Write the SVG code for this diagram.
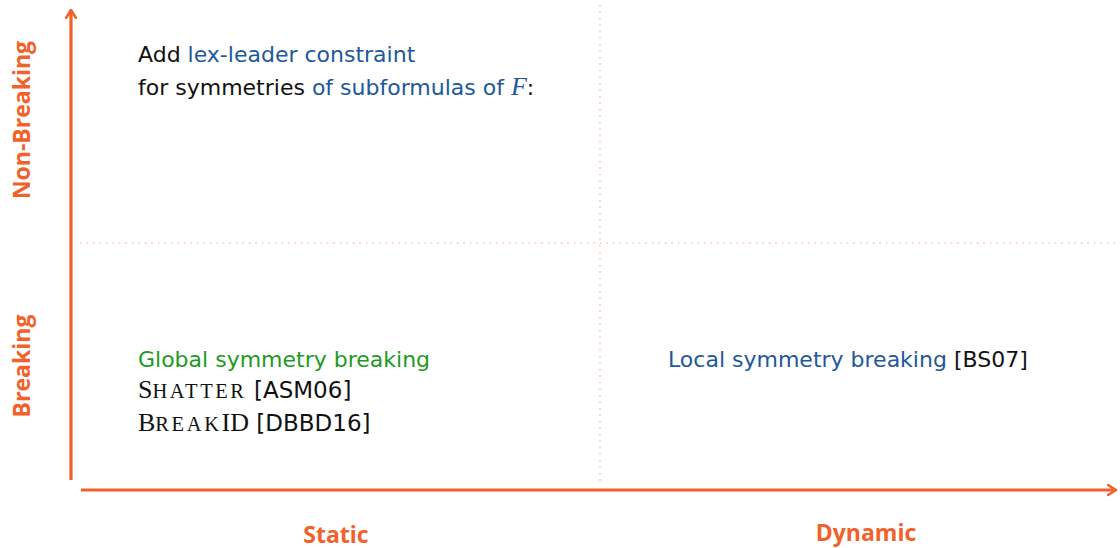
<svg xmlns="http://www.w3.org/2000/svg" width="1120" height="548" viewBox="0 0 1120 548">
  <defs>
    <style>
      .axis { stroke: #f26129; stroke-width: 3.2; fill: none; }
      .grid { stroke: #f5a07c; stroke-width: 1.2; stroke-dasharray: 1.3 5.2; fill: none; }
      .ax-label { font-family: "Open Sans", "DejaVu Sans", sans-serif; font-weight: bold; font-size: 23px; fill: #f26129; }
      .txt { font-family: "DejaVu Sans", "Liberation Sans", sans-serif; font-size: 22px; fill: #111; }
      .ref { font-size: 23px; }
      .serif { font-family: "Liberation Serif", serif; font-size: 26px; }
      .sc { font-family: "Liberation Serif", serif; font-size: 20.5px; letter-spacing: 2.6px; }
      .blue { fill: #22589a; }
      .green { fill: #1e9a1e; }
    </style>
    <marker id="arrow" viewBox="0 0 12 12" refX="9" refY="6" markerWidth="12" markerHeight="12" markerUnits="userSpaceOnUse" orient="auto">
      <path d="M1,1 L9,6 L1,11" fill="none" stroke="#f26129" stroke-width="2.6" stroke-linecap="round" stroke-linejoin="round"/>
    </marker>
  </defs>

  <!-- quadrant dividers -->
  <g id="grid">
    <line class="grid" x1="80" y1="243" x2="1120" y2="243"/>
    <line class="grid" x1="600" y1="5" x2="600" y2="482"/>
  </g>

  <!-- axes -->
  <g id="connectors">
    <line class="axis" x1="71" y1="480" x2="71" y2="10" marker-end="url(#arrow)"/>
    <line class="axis" x1="81" y1="490" x2="1116" y2="490" marker-end="url(#arrow)"/>
  </g>

  <!-- axis labels -->
  <g id="label-nonbreaking">
    <text class="ax-label" transform="translate(30,120) rotate(-90)" text-anchor="middle">Non-Breaking</text>
  </g>
  <g id="label-breaking">
    <text class="ax-label" transform="translate(30,366) rotate(-90)" text-anchor="middle">Breaking</text>
  </g>
  <g id="label-static">
    <text class="ax-label" x="336" y="543" text-anchor="middle">Static</text>
  </g>
  <g id="label-dynamic">
    <text class="ax-label" x="866" y="541" text-anchor="middle">Dynamic</text>
  </g>

  <!-- top-left quadrant -->
  <g id="lex-leader">
    <text class="txt" x="138" y="62">Add <tspan class="blue">lex-leader constraint</tspan></text>
    <text class="txt" x="138" y="95">for symmetries <tspan class="blue">of subformulas of </tspan><tspan class="blue serif" font-style="italic">F</tspan>:</text>
  </g>

  <!-- bottom-left quadrant -->
  <g id="global">
    <text class="txt green" x="138" y="367">Global symmetry breaking</text>
    <text class="txt" x="138" y="398"><tspan class="serif">S</tspan><tspan class="sc">HATTER</tspan><tspan class="ref"> [ASM06]</tspan></text>
    <text class="txt" x="138" y="431"><tspan class="serif">B</tspan><tspan class="sc">REAK</tspan><tspan class="serif">ID</tspan><tspan class="ref"> [DBBD16]</tspan></text>
  </g>

  <!-- bottom-right quadrant -->
  <g id="local">
    <text class="txt" x="668" y="367"><tspan class="blue">Local symmetry breaking</tspan> [BS07]</text>
  </g>
</svg>
